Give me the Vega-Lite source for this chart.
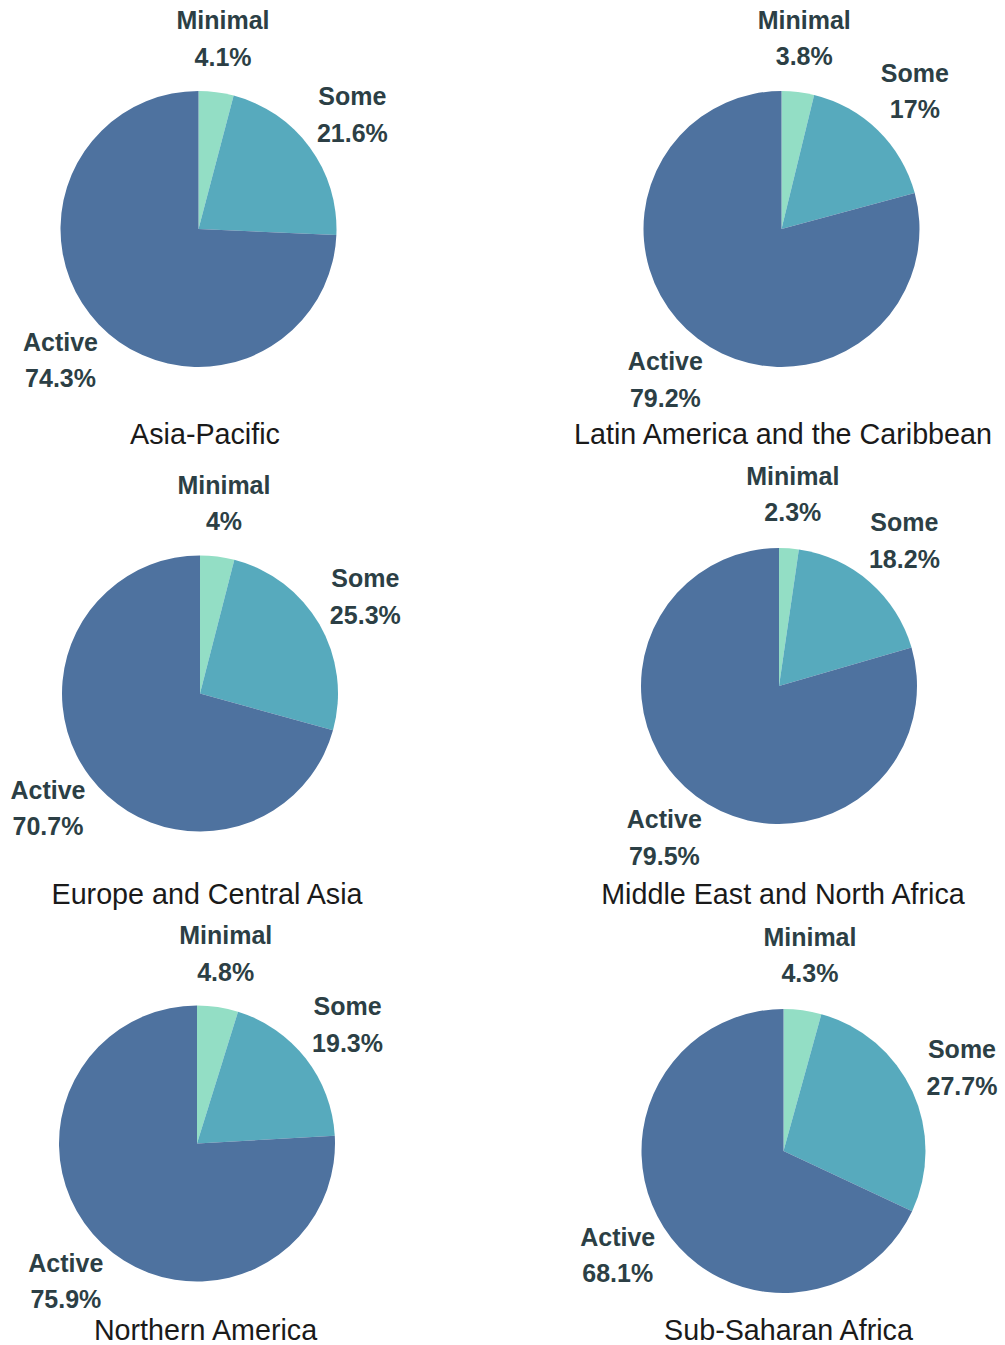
{
  "$schema": "https://vega.github.io/schema/vega-lite/v6.json",
  "autosize": {"type": "pad"},
  "padding": {"left": 0, "top": 8, "right": 5, "bottom": 5},
  "background": "white",
  "bounds": "flush",
  "config": {
    "view": {"stroke": null},
    "title": {"font": "Liberation Sans", "fontSize": 28.7, "fontWeight": "normal", "color": "#1a1a1a", "orient": "bottom", "frame": "group", "anchor": "middle"},
    "text": {"font": "Liberation Sans", "fontSize": 25, "fontWeight": "bold"}
  },
  "datasets": {
    "pies": [
      {"region": "Asia-Pacific", "category": "Minimal", "share": 0.041},
      {"region": "Asia-Pacific", "category": "Some", "share": 0.216},
      {"region": "Asia-Pacific", "category": "Active", "share": 0.743},
      {"region": "Latin America and the Caribbean", "category": "Minimal", "share": 0.038},
      {"region": "Latin America and the Caribbean", "category": "Some", "share": 0.17},
      {"region": "Latin America and the Caribbean", "category": "Active", "share": 0.792},
      {"region": "Europe and Central Asia", "category": "Minimal", "share": 0.04},
      {"region": "Europe and Central Asia", "category": "Some", "share": 0.253},
      {"region": "Europe and Central Asia", "category": "Active", "share": 0.707},
      {"region": "Middle East and North Africa", "category": "Minimal", "share": 0.023},
      {"region": "Middle East and North Africa", "category": "Some", "share": 0.182},
      {"region": "Middle East and North Africa", "category": "Active", "share": 0.795},
      {"region": "Northern America", "category": "Minimal", "share": 0.048},
      {"region": "Northern America", "category": "Some", "share": 0.193},
      {"region": "Northern America", "category": "Active", "share": 0.759},
      {"region": "Sub-Saharan Africa", "category": "Minimal", "share": 0.043},
      {"region": "Sub-Saharan Africa", "category": "Some", "share": 0.277},
      {"region": "Sub-Saharan Africa", "category": "Active", "share": 0.681}
    ],
    "levels": [
      {"category": "Minimal", "rank": 1},
      {"category": "Some", "rank": 2},
      {"category": "Active", "rank": 3}
    ]
  },
  "data": {"name": "pies"},
  "columns": 2,
  "spacing": {"row": 72, "column": 170},
  "concat": [
    {
      "width": 397, "height": 380,
      "title": {"text": "Asia-Pacific", "offset": 2, "dx": 6.5},
      "transform": [{"filter": {"field": "region", "equal": "Asia-Pacific"}}, {"lookup": "category", "from": {"data": {"name": "levels"}, "key": "category", "fields": ["rank"]}}],
      "encoding": {"theta": {"field": "share", "type": "quantitative", "stack": true}, "order": {"field": "rank", "type": "quantitative"}},
      "resolve": {"scale": {"color": "independent"}},
      "layer": [
        {"mark": {"type": "arc", "outerRadius": 138}, "encoding": {"color": {"field": "category", "type": "nominal", "scale": {"domain": ["Minimal", "Some", "Active"], "range": ["#93dec5", "#57aabd", "#4e729f"]}, "legend": null}}},
        {"mark": {"type": "text", "radius": 191, "dy": -18.5}, "encoding": {"text": {"field": "category"}, "color": {"field": "category", "type": "nominal", "scale": {"domain": ["Minimal", "Some", "Active"], "range": ["#2c3f45", "#2c3f45", "#2c3f45"]}, "legend": null}}},
        {"mark": {"type": "text", "radius": 191, "dy": 18}, "encoding": {"text": {"field": "share", "type": "quantitative", "format": ".1~%"}, "color": {"field": "category", "type": "nominal", "scale": {"domain": ["Minimal", "Some", "Active"], "range": ["#2c3f45", "#2c3f45", "#2c3f45"]}, "legend": null}}}
      ]
    },
    {
      "width": 423, "height": 380,
      "title": {"text": "Latin America and the Caribbean", "offset": 2, "dx": 1.5},
      "transform": [{"filter": {"field": "region", "equal": "Latin America and the Caribbean"}}, {"lookup": "category", "from": {"data": {"name": "levels"}, "key": "category", "fields": ["rank"]}}],
      "encoding": {"theta": {"field": "share", "type": "quantitative", "stack": true}, "order": {"field": "rank", "type": "quantitative"}},
      "resolve": {"scale": {"color": "independent"}},
      "layer": [
        {"mark": {"type": "arc", "outerRadius": 138}, "encoding": {"color": {"field": "category", "type": "nominal", "scale": {"domain": ["Minimal", "Some", "Active"], "range": ["#93dec5", "#57aabd", "#4e729f"]}, "legend": null}}},
        {"mark": {"type": "text", "radius": 191, "dy": -18.5}, "encoding": {"text": {"field": "category"}, "color": {"field": "category", "type": "nominal", "scale": {"domain": ["Minimal", "Some", "Active"], "range": ["#2c3f45", "#2c3f45", "#2c3f45"]}, "legend": null}}},
        {"mark": {"type": "text", "radius": 191, "dy": 18}, "encoding": {"text": {"field": "share", "type": "quantitative", "format": ".1~%"}, "color": {"field": "category", "type": "nominal", "scale": {"domain": ["Minimal", "Some", "Active"], "range": ["#2c3f45", "#2c3f45", "#2c3f45"]}, "legend": null}}}
      ]
    },
    {
      "width": 400, "height": 405,
      "title": {"text": "Europe and Central Asia", "offset": -15, "dx": 7},
      "transform": [{"filter": {"field": "region", "equal": "Europe and Central Asia"}}, {"lookup": "category", "from": {"data": {"name": "levels"}, "key": "category", "fields": ["rank"]}}],
      "encoding": {"theta": {"field": "share", "type": "quantitative", "stack": true}, "order": {"field": "rank", "type": "quantitative"}},
      "resolve": {"scale": {"color": "independent"}},
      "layer": [
        {"mark": {"type": "arc", "outerRadius": 138}, "encoding": {"color": {"field": "category", "type": "nominal", "scale": {"domain": ["Minimal", "Some", "Active"], "range": ["#93dec5", "#57aabd", "#4e729f"]}, "legend": null}}},
        {"mark": {"type": "text", "radius": 191, "dy": -18.5}, "encoding": {"text": {"field": "category"}, "color": {"field": "category", "type": "nominal", "scale": {"domain": ["Minimal", "Some", "Active"], "range": ["#2c3f45", "#2c3f45", "#2c3f45"]}, "legend": null}}},
        {"mark": {"type": "text", "radius": 191, "dy": 18}, "encoding": {"text": {"field": "share", "type": "quantitative", "format": ".1~%"}, "color": {"field": "category", "type": "nominal", "scale": {"domain": ["Minimal", "Some", "Active"], "range": ["#2c3f45", "#2c3f45", "#2c3f45"]}, "legend": null}}}
      ]
    },
    {
      "width": 418, "height": 390,
      "title": {"text": "Middle East and North Africa", "offset": 0, "dx": 4},
      "transform": [{"filter": {"field": "region", "equal": "Middle East and North Africa"}}, {"lookup": "category", "from": {"data": {"name": "levels"}, "key": "category", "fields": ["rank"]}}],
      "encoding": {"theta": {"field": "share", "type": "quantitative", "stack": true}, "order": {"field": "rank", "type": "quantitative"}},
      "resolve": {"scale": {"color": "independent"}},
      "layer": [
        {"mark": {"type": "arc", "outerRadius": 138}, "encoding": {"color": {"field": "category", "type": "nominal", "scale": {"domain": ["Minimal", "Some", "Active"], "range": ["#93dec5", "#57aabd", "#4e729f"]}, "legend": null}}},
        {"mark": {"type": "text", "radius": 191, "dy": -18.5}, "encoding": {"text": {"field": "category"}, "color": {"field": "category", "type": "nominal", "scale": {"domain": ["Minimal", "Some", "Active"], "range": ["#2c3f45", "#2c3f45", "#2c3f45"]}, "legend": null}}},
        {"mark": {"type": "text", "radius": 191, "dy": 18}, "encoding": {"text": {"field": "share", "type": "quantitative", "format": ".1~%"}, "color": {"field": "category", "type": "nominal", "scale": {"domain": ["Minimal", "Some", "Active"], "range": ["#2c3f45", "#2c3f45", "#2c3f45"]}, "legend": null}}}
      ]
    },
    {
      "width": 394, "height": 351,
      "title": {"text": "Northern America", "offset": -2, "dx": 8.5},
      "transform": [{"filter": {"field": "region", "equal": "Northern America"}}, {"lookup": "category", "from": {"data": {"name": "levels"}, "key": "category", "fields": ["rank"]}}],
      "encoding": {"theta": {"field": "share", "type": "quantitative", "stack": true}, "order": {"field": "rank", "type": "quantitative"}},
      "resolve": {"scale": {"color": "independent"}},
      "layer": [
        {"mark": {"type": "arc", "outerRadius": 138}, "encoding": {"color": {"field": "category", "type": "nominal", "scale": {"domain": ["Minimal", "Some", "Active"], "range": ["#93dec5", "#57aabd", "#4e729f"]}, "legend": null}}},
        {"mark": {"type": "text", "radius": 191, "dy": -18.5}, "encoding": {"text": {"field": "category"}, "color": {"field": "category", "type": "nominal", "scale": {"domain": ["Minimal", "Some", "Active"], "range": ["#2c3f45", "#2c3f45", "#2c3f45"]}, "legend": null}}},
        {"mark": {"type": "text", "radius": 191, "dy": 18}, "encoding": {"text": {"field": "share", "type": "quantitative", "format": ".1~%"}, "color": {"field": "category", "type": "nominal", "scale": {"domain": ["Minimal", "Some", "Active"], "range": ["#2c3f45", "#2c3f45", "#2c3f45"]}, "legend": null}}}
      ]
    },
    {
      "width": 427, "height": 366,
      "title": {"text": "Sub-Saharan Africa", "offset": -17, "dx": 5},
      "transform": [{"filter": {"field": "region", "equal": "Sub-Saharan Africa"}}, {"lookup": "category", "from": {"data": {"name": "levels"}, "key": "category", "fields": ["rank"]}}],
      "encoding": {"theta": {"field": "share", "type": "quantitative", "stack": true}, "order": {"field": "rank", "type": "quantitative"}},
      "resolve": {"scale": {"color": "independent"}},
      "layer": [
        {"mark": {"type": "arc", "outerRadius": 142}, "encoding": {"color": {"field": "category", "type": "nominal", "scale": {"domain": ["Minimal", "Some", "Active"], "range": ["#93dec5", "#57aabd", "#4e729f"]}, "legend": null}}},
        {"mark": {"type": "text", "radius": 196.5, "dy": -18.5}, "encoding": {"text": {"field": "category"}, "color": {"field": "category", "type": "nominal", "scale": {"domain": ["Minimal", "Some", "Active"], "range": ["#2c3f45", "#2c3f45", "#2c3f45"]}, "legend": null}}},
        {"mark": {"type": "text", "radius": 196.5, "dy": 18}, "encoding": {"text": {"field": "share", "type": "quantitative", "format": ".1~%"}, "color": {"field": "category", "type": "nominal", "scale": {"domain": ["Minimal", "Some", "Active"], "range": ["#2c3f45", "#2c3f45", "#2c3f45"]}, "legend": null}}}
      ]
    }
  ]
}
